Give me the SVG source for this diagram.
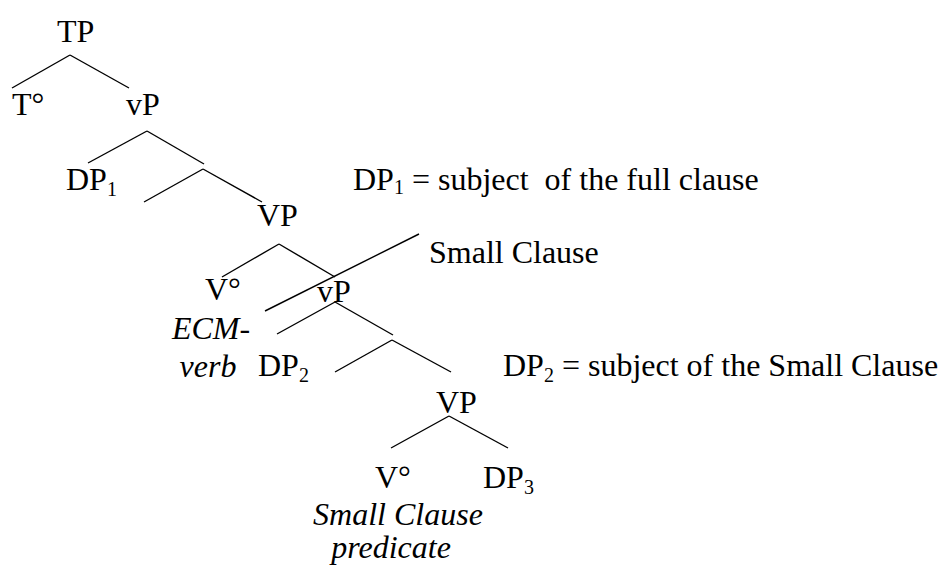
<svg xmlns="http://www.w3.org/2000/svg" width="939" height="565" viewBox="0 0 939 565">
<style>
text{font-family:"Liberation Serif","Times New Roman",serif;font-size:32px;fill:#000}
.it{font-style:italic}
.mid{text-anchor:middle}
.sub{font-size:20px}
.pre{white-space:pre}
#connectors line{stroke:#000;stroke-width:1.4;stroke-linecap:butt}
</style>
<rect width="939" height="565" fill="#fff"/>
<g id="connectors">
<line x1="70" y1="55" x2="12" y2="88"/>
<line x1="70" y1="55" x2="129" y2="88"/>
<line x1="147" y1="131" x2="88" y2="163"/>
<line x1="147" y1="131" x2="204" y2="164"/>
<line x1="203" y1="169" x2="144" y2="202"/>
<line x1="203" y1="169" x2="262" y2="202"/>
<line x1="279" y1="244" x2="222" y2="277"/>
<line x1="279" y1="244" x2="335" y2="277"/>
<line x1="265" y1="311" x2="419" y2="234"/>
<line x1="335" y1="302" x2="277" y2="334"/>
<line x1="335" y1="302" x2="393" y2="335"/>
<line x1="392" y1="340" x2="335" y2="372"/>
<line x1="392" y1="340" x2="451" y2="372"/>
<line x1="449" y1="416" x2="391" y2="448"/>
<line x1="449" y1="416" x2="508" y2="448"/>
</g>
<g id="TP"><text x="57" y="42">TP</text></g>
<g id="T0"><text x="12" y="115">T°</text></g>
<g id="vP1"><text x="126" y="115">vP</text></g>
<g id="DP1"><text x="66" y="190">DP<tspan class="sub" dy="6">1</tspan></text></g>
<g id="VP1"><text x="257" y="226">VP</text></g>
<g id="V1"><text x="205" y="300">V°</text><text class="it mid" x="211" y="339">ECM-</text><text class="it mid" x="208" y="377">verb</text></g>
<g id="vP2"><text x="317" y="302">vP</text></g>
<g id="DP2"><text x="258" y="376">DP<tspan class="sub" dy="6">2</tspan></text></g>
<g id="VP2"><text x="436" y="413">VP</text></g>
<g id="V2"><text x="375" y="488">V°</text><text class="it mid" x="398" y="525">Small Clause</text><text class="it mid" x="391" y="558">predicate</text></g>
<g id="DP3"><text x="483" y="488">DP<tspan class="sub" dy="6">3</tspan></text></g>
<g id="note-DP1"><text class="pre" x="353" y="190">DP<tspan class="sub" dy="4">1</tspan><tspan dy="-4"> = subject  of the full clause</tspan></text></g>
<g id="note-SC"><text x="429" y="263">Small Clause</text></g>
<g id="note-DP2"><text x="503" y="376">DP<tspan class="sub" dy="6">2</tspan><tspan dy="-6"> = subject of the Small Clause</tspan></text></g>
</svg>
